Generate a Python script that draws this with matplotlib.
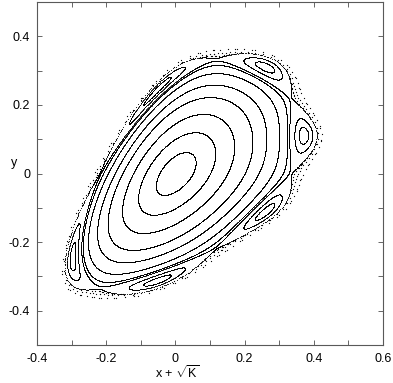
"""
Phase portrait of the quadratic area-preserving map
    y' = y + EPS * (x^2 - K),  x' = x + y'
plotted around the elliptic fixed point x = -sqrt(K).
"""
import numpy as np
import matplotlib
matplotlib.use("Agg")
import matplotlib.pyplot as plt

plt.rcParams["font.family"] = ["Liberation Sans", "DejaVu Sans"]
plt.rcParams["mathtext.fontset"] = "custom"
plt.rcParams["mathtext.rm"] = "Liberation Sans"
plt.rcParams["mathtext.it"] = "Liberation Sans"

# map parameters
K = 0.1420
EPS = 1.566

# starting points (u = x + sqrt(K), y)
CURVE_U0 = [0.05, 0.10, 0.15, 0.20, 0.24, 0.28, 0.31, 0.327]
CURVE_Y0 = [0.0] * len(CURVE_U0)
ISLAND_U0 = [0.384, 0.396]
ISLAND_Y0 = [0.111, 0.111]
LAYER_U0 = [0.336]
LAYER_Y0 = [0.0]
OUTER_U0 = [0.345, 0.355, 0.37]
OUTER_Y0 = [0.0, 0.0, 0.0]

N_CURVE = 4000
N_ISLAND = 4000
N_LAYER = 1500
N_OUTER = 120

XTICKS = [-0.4, -0.2, 0, 0.2, 0.4, 0.6]
XLABELS = ["-0.4", "-0.2", "0", "0.2", "0.4", "0.6"]
YTICKS = [-0.4, -0.2, 0, 0.2, 0.4]
YLABELS = ["-0.4", "-0.2", "0", "0.2", "0.4"]


def orbit(u0, y0, n):
    rk = np.sqrt(K)
    x, y = u0 - rk, y0
    us, ys = [], []
    for _ in range(n):
        y = y + EPS * (x * x - K)
        x = x + y
        if abs(x) > 2 or abs(y) > 2:
            break
        us.append(x + rk)
        ys.append(y)
    return us, ys


def draw(ax, u0s, y0s, n, ms):
    for u0, y0 in zip(u0s, y0s):
        us, ys = orbit(u0, y0, n)
        ax.plot(us, ys, linestyle="none", marker=".", ms=ms,
                mec="none", mfc="black")


fig = plt.figure(figsize=(3.93, 3.83), dpi=100)
ax = fig.add_axes([37 / 393, 38 / 383, 346 / 393, 343 / 383])

draw(ax, CURVE_U0, CURVE_Y0, N_CURVE, 1.3)
draw(ax, ISLAND_U0, ISLAND_Y0, N_ISLAND, 1.3)
draw(ax, LAYER_U0, LAYER_Y0, N_LAYER, 1.5)
draw(ax, OUTER_U0, OUTER_Y0, N_OUTER, 1.8)

ax.set_xlim(-0.4, 0.6)
ax.set_ylim(-0.5, 0.5)
ax.set_xticks(XTICKS)
ax.set_xticklabels(XLABELS)
ax.set_yticks(YTICKS)
ax.set_yticklabels(YLABELS)
ax.set_xticks(np.arange(-0.3, 0.6, 0.2), minor=True)
ax.set_yticks(np.arange(-0.5, 0.51, 0.2), minor=True)
ax.tick_params(which="both", direction="in", top=True, right=True,
               length=3.5, width=0.6, labelsize=9, color="0.3")
ax.tick_params(axis="x", pad=6)
ax.tick_params(axis="y", pad=5)
for sp in ax.spines.values():
    sp.set_linewidth(0.8)
    sp.set_color("0.35")

ax.text(-0.465, 0.03, "y", fontsize=9, ha="center", va="center")
ax.text(0.005, -0.58, r"x + $\sqrt{\mathrm{K}}$", fontsize=9,
        ha="center", va="center")

fig.savefig("out.png", dpi=100)
